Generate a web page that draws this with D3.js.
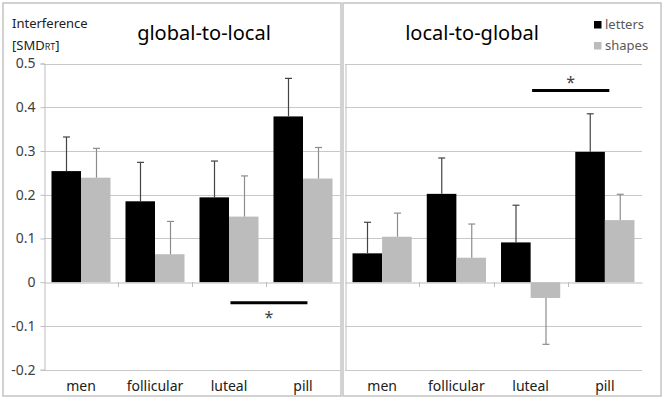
<!DOCTYPE html>
<html>
<head>
<meta charset="utf-8">
<script src="https://cdn.jsdelivr.net/npm/d3@7"></script>
<style>
  body { margin: 0; background: #fff; }
  text { font-family: "Noto Sans", "Open Sans", sans-serif; }
</style>
</head>
<body>
<div id="chart"></div>
<script>
// data
var categories = ["men", "follicular", "luteal", "pill"];
var series = ["letters", "shapes"];
var colors = { letters: "#000000", shapes: "#bcbcbc" };
var errColors = { letters: "#444444", shapes: "#8c8c8c" };

var g2lLetters = [0.254, 0.185, 0.194, 0.379];
var g2lLettersErr = [0.078, 0.089, 0.083, 0.087];
var g2lShapes = [0.239, 0.064, 0.150, 0.237];
var g2lShapesErr = [0.067, 0.075, 0.093, 0.071];

var l2gLetters = [0.066, 0.202, 0.091, 0.298];
var l2gLettersErr = [0.071, 0.082, 0.085, 0.087];
var l2gShapes = [0.104, 0.056, -0.036, 0.142];
var l2gShapesErr = [0.054, 0.077, -0.106, 0.059];

var yTicks = [0.5, 0.4, 0.3, 0.2, 0.1, 0, -0.1, -0.2];
var yTickLabels = ["0.5", "0.4", "0.3", "0.2", "0.1", "0", "-0.1", "-0.2"];

// significance bars: [from category, to category, y value, star position]
var g2lSig = { from: "luteal", to: "pill", y: -0.047, starAbove: false };
var l2gSig = { from: "luteal", to: "pill", y: 0.438, starAbove: true };

var width = 664, height = 400;

var svg = d3.select("#chart").append("svg")
  .attr("width", width)
  .attr("height", height);

svg.append("rect").attr("width", width).attr("height", height).attr("fill", "#fff");

var y = d3.scaleLinear()
  .domain([-0.2, 0.5])
  .range([369.7, 63.5]);

function rows(l, le, s, se) {
  return categories.map(function(c, i) {
    return {
      cat: c,
      vals: [
        { key: "letters", v: l[i], e: le[i] },
        { key: "shapes", v: s[i], e: se[i] }
      ]
    };
  });
}

function panel(opts) {
  // panel frame
  svg.append("rect")
    .attr("x", opts.box[0]).attr("y", opts.box[1])
    .attr("width", opts.box[2]).attr("height", opts.box[3])
    .attr("fill", "none")
    .attr("stroke", "#c4c4c4")
    .attr("stroke-width", 1.5);

  var x0 = d3.scaleBand()
    .domain(categories)
    .range([opts.left, opts.right])
    .padding(0);

  var x1 = d3.scaleBand()
    .domain(series)
    .range([0, x0.bandwidth()])
    .paddingInner(0)
    .paddingOuter(0.254);

  var g = svg.append("g");

  // grid lines
  g.selectAll(".grid")
    .data(yTicks.filter(function(t) { return t !== 0; }))
    .enter().append("line")
    .attr("x1", opts.left).attr("x2", opts.right)
    .attr("y1", function(d) { return Math.round(y(d)) + 0.5; })
    .attr("y2", function(d) { return Math.round(y(d)) + 0.5; })
    .attr("stroke", "#c8c8c8");

  // y axis
  var yAxis = d3.axisLeft(y)
    .tickValues(yTicks)
    .tickSize(opts.showLabels ? 4 : 0)
    .tickFormat(function(d, i) { return opts.showLabels ? yTickLabels[i] : ""; });

  var ya = g.append("g")
    .attr("transform", "translate(" + (opts.left + 0.5) + ",0)")
    .call(yAxis);
  ya.select(".domain").attr("stroke", "#bdbdbd");
  ya.selectAll(".tick line").attr("stroke", "#bdbdbd");
  ya.selectAll(".tick text")
    .attr("x", -9)
    .attr("fill", "#404040")
    .style("font-size", "14px");

  // bars
  var grp = g.selectAll(".grp")
    .data(opts.data)
    .enter().append("g")
    .attr("transform", function(d) { return "translate(" + x0(d.cat) + ",0)"; });

  grp.selectAll("rect")
    .data(function(d) { return d.vals; })
    .enter().append("rect")
    .attr("x", function(d) { return x1(d.key); })
    .attr("width", x1.bandwidth())
    .attr("y", function(d) { return y(Math.max(0, d.v)); })
    .attr("height", function(d) { return Math.abs(y(d.v) - y(0)); })
    .attr("fill", function(d) { return colors[d.key]; });

  // error bars
  var eb = grp.selectAll(".err")
    .data(function(d) { return d.vals; })
    .enter().append("g");

  eb.append("line")
    .attr("x1", function(d) { return Math.round(x1(d.key) + x1.bandwidth() / 2) + 0.5; })
    .attr("x2", function(d) { return Math.round(x1(d.key) + x1.bandwidth() / 2) + 0.5; })
    .attr("y1", function(d) { return y(d.v); })
    .attr("y2", function(d) { return y(d.v + d.e); })
    .attr("stroke", function(d) { return errColors[d.key]; })
    .attr("stroke-width", 1.2);

  eb.append("line")
    .attr("x1", function(d) { return Math.round(x1(d.key) + x1.bandwidth() / 2) - 3; })
    .attr("x2", function(d) { return Math.round(x1(d.key) + x1.bandwidth() / 2) + 4; })
    .attr("y1", function(d) { return y(d.v + d.e); })
    .attr("y2", function(d) { return y(d.v + d.e); })
    .attr("stroke", function(d) { return errColors[d.key]; })
    .attr("stroke-width", 1.2);

  // x axis at zero
  var xAxis = d3.axisBottom(x0).tickSize(0).tickFormat("");
  var xa = g.append("g")
    .attr("transform", "translate(0," + (Math.round(y(0)) + 0.5) + ")")
    .call(xAxis);
  xa.select(".domain").attr("stroke", "#bdbdbd");
  g.selectAll(".xtick")
    .data(categories.slice(1))
    .enter().append("line")
    .attr("x1", function(d) { return Math.round(x0(d)) + 0.5; })
    .attr("x2", function(d) { return Math.round(x0(d)) + 0.5; })
    .attr("y1", Math.round(y(0)))
    .attr("y2", Math.round(y(0)) + 5)
    .attr("stroke", "#bdbdbd");

  // category labels
  g.selectAll(".xlab")
    .data(categories)
    .enter().append("text")
    .attr("x", function(d) { return x0(d) + x0.bandwidth() / 2; })
    .attr("y", 391)
    .attr("text-anchor", "middle")
    .attr("fill", "#202020")
    .style("font-size", "14px")
    .text(function(d) { return d; });

  // title
  svg.append("text")
    .attr("x", opts.titleX)
    .attr("y", 40)
    .attr("text-anchor", "middle")
    .attr("fill", "#000")
    .style("font-size", "20px")
    .text(opts.title);

  // significance marker
  var s = opts.sig;
  var sx1 = x0(s.from) + x0.bandwidth() * 0.52;
  var sx2 = x0(s.to) + x0.bandwidth() * 0.56;
  g.append("line")
    .attr("x1", sx1).attr("x2", sx2)
    .attr("y1", y(s.y)).attr("y2", y(s.y))
    .attr("stroke", "#000")
    .attr("stroke-width", 3);
  g.append("text")
    .attr("x", (sx1 + sx2) / 2)
    .attr("y", s.starAbove ? y(s.y) - 3 : y(s.y) + 20)
    .attr("text-anchor", "middle")
    .attr("fill", "#404040")
    .style("font-size", "16px")
    .text("*");
}

panel({
  box: [3, 3, 338, 393],
  left: 44, right: 340,
  showLabels: true,
  title: "global-to-local",
  titleX: 204,
  sig: g2lSig,
  data: rows(g2lLetters, g2lLettersErr, g2lShapes, g2lShapesErr)
});

panel({
  box: [343, 3, 318, 393],
  left: 345, right: 642,
  showLabels: false,
  title: "local-to-global",
  titleX: 472,
  sig: l2gSig,
  data: rows(l2gLetters, l2gLettersErr, l2gShapes, l2gShapesErr)
});

// y axis title
var yt = svg.append("text")
  .attr("x", 12)
  .attr("y", 28)
  .attr("fill", "#202020")
  .style("font-size", "13px")
  .text("Interference");
var yt2 = svg.append("text")
  .attr("x", 12)
  .attr("y", 50)
  .attr("fill", "#202020")
  .style("font-size", "13px");
yt2.append("tspan").text("[SMD");
yt2.append("tspan").style("font-size", "9px").text("RT");
yt2.append("tspan").text("]");

// legend
var legend = svg.append("g")
  .selectAll("g")
  .data(series)
  .enter().append("g")
  .attr("transform", function(d, i) { return "translate(594," + (21 + i * 21) + ")"; });

legend.append("rect")
  .attr("width", 7.5)
  .attr("height", 7.5)
  .attr("fill", function(d) { return colors[d]; });

legend.append("text")
  .attr("x", 11)
  .attr("y", 8)
  .attr("fill", "#595959")
  .style("font-size", "13px")
  .text(function(d) { return d; });
</script>
</body>
</html>
